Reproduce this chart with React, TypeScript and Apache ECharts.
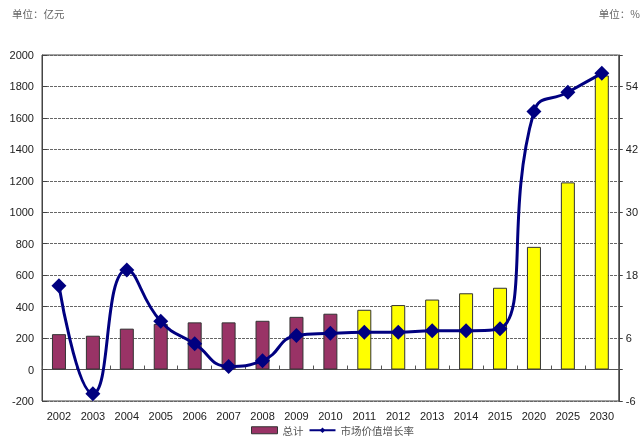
import React, { useEffect, useRef } from "react";
import * as echarts from "echarts";

// Years on the category axis
const years = [
  "2002", "2003", "2004", "2005", "2006", "2007", "2008", "2009", "2010",
  "2011", "2012", "2013", "2014", "2015", "2020", "2025", "2030",
];
// Total market size (亿元); from 2011 on the values are forecasts
const totals = [225, 215, 260, 290, 300, 300, 310, 335, 355, 380, 410, 445, 485, 520, 780, 1190, 1870];
// Market value growth rate (%)
const growth = [16, -4.6, 19, 9.2, 4.9, 0.6, 1.7, 6.5, 6.9, 7.1, 7.1, 7.4, 7.4, 7.8, 49.2, 52.9, 56.5];
// First forecast year
const forecastFrom = "2011";

const FONT = "'Liberation Sans', 'Noto Sans CJK SC', sans-serif";
const CJK = "'Noto Sans CJK SC', sans-serif";
const HIST = "#993366";
const FORE = "#FFFF00";
const NAVY = "#000080";

export default function App() {
  const ref = useRef<HTMLDivElement>(null);

  useEffect(() => {
    if (!ref.current) return;
    const chart = echarts.init(ref.current, undefined, { renderer: "svg" });
    const cut = years.indexOf(forecastFrom);

    chart.setOption({
      animation: false,
      textStyle: { fontFamily: FONT },
      grid: {
        left: 42,
        right: 15,
        top: 55,
        bottom: 44,
        show: true,
        borderColor: "#444",
        borderWidth: 1,
      },
      graphic: [
        {
          type: "text",
          left: 12,
          top: 8,
          style: { text: "单位：亿元", fontFamily: CJK, fontSize: 10.5, fill: "#666" },
        },
        {
          type: "text",
          right: 1,
          top: 8,
          style: { text: "单位：%", fontFamily: CJK, fontSize: 10.5, fill: "#666" },
        },
      ],
      legend: {
        top: 425,
        left: 251,
        padding: 0,
        itemWidth: 26,
        itemHeight: 7,
        itemGap: 5,
        textStyle: { fontFamily: CJK, fontSize: 10.5, color: "#555" },
        data: [
          { name: "总计", icon: "rect", itemStyle: { color: HIST, borderColor: "#333", borderWidth: 1 } },
          { name: "市场价值增长率" },
        ],
      },
      xAxis: {
        type: "category",
        data: years,
        boundaryGap: true,
        axisLine: { onZero: true, lineStyle: { color: "#555", width: 1 } },
        axisTick: { show: true, inside: true, length: 4, lineStyle: { color: "#555" } },
        axisLabel: { interval: 0, color: "#222", fontSize: 11, margin: 9, fontFamily: FONT },
      },
      yAxis: [
        {
          type: "value",
          min: -200,
          max: 2000,
          interval: 200,
          axisLine: { show: true, lineStyle: { color: "#444" } },
          axisTick: { show: true, inside: true, length: 5, lineStyle: { color: "#444" } },
          axisLabel: {
            color: "#222",
            fontSize: 11,
            margin: 8,
            fontFamily: FONT,
            formatter: (v: number) => String(v),
          },
          splitLine: { show: true, lineStyle: { color: "#666", type: [3, 1], width: 1 } },
        },
        {
          type: "value",
          position: "right",
          min: -6,
          max: 60,
          interval: 6,
          axisLine: { show: true, lineStyle: { color: "#444" } },
          axisTick: { show: true, inside: false, length: 4, lineStyle: { color: "#444" } },
          axisLabel: {
            color: "#222",
            fontSize: 11,
            margin: 7,
            fontFamily: FONT,
            formatter: (v: number) => ((v + 6) % 12 === 0 && v < 60 ? String(v) : ""),
          },
          splitLine: { show: false },
        },
      ],
      series: [
        {
          name: "总计",
          type: "bar",
          yAxisIndex: 0,
          barWidth: 14,
          itemStyle: { color: HIST, borderColor: "#333", borderWidth: 1 },
          data: totals.map((v, i) => ({
            value: v,
            itemStyle: { color: i >= cut ? FORE : HIST, borderColor: "#333", borderWidth: 1 },
          })),
          z: 2,
        },
        {
          name: "市场价值增长率",
          type: "line",
          yAxisIndex: 1,
          data: growth,
          smooth: 0.5,
          symbol: "diamond",
          symbolSize: 15,
          itemStyle: { color: NAVY },
          lineStyle: { color: NAVY, width: 3 },
          z: 3,
        },
      ],
    });

    return () => chart.dispose();
  }, []);

  return (
    <div
      ref={ref}
      style={{ position: "fixed", left: 0, top: 0, width: 641, height: 445 }}
    />
  );
}
